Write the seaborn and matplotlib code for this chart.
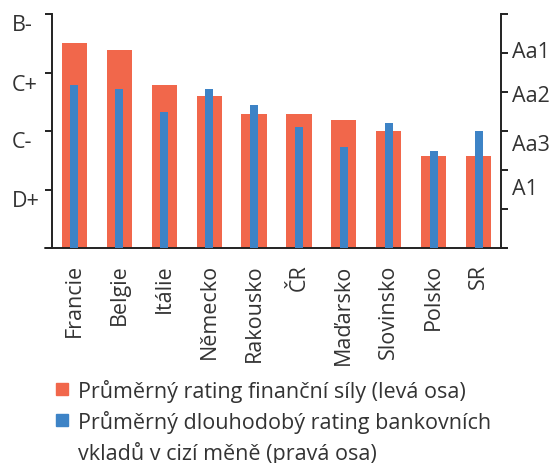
import matplotlib
matplotlib.use("Agg")
import matplotlib.pyplot as plt
from matplotlib.lines import Line2D
import pandas as pd
import seaborn as sns

# Countries and average ratings expressed as notch positions on each axis scale
countries = ["Francie", "Belgie", "Itálie", "Německo", "Rakousko",
             "ČR", "Maďarsko", "Slovinsko", "Polsko", "SR"]
strength_rating = [3.50, 3.38, 2.79, 2.60, 2.29, 2.29, 2.19, 2.00, 1.57, 1.57]
deposit_rating = [4.18, 4.08, 3.49, 4.08, 3.67, 3.10, 2.59, 3.21, 2.49, 3.00]

left_labels = ["D+", "C-", "C+", "B-"]
left_label_pos = [0.85, 1.86, 2.84, 3.86]
right_labels = ["A1", "Aa3", "Aa2", "Aa1"]
right_label_pos = [1.59, 2.72, 3.97, 5.10]

legend_labels = ["Průměrný rating finanční síly (levá osa)",
                 "Průměrný dlouhodobý rating bankovních"]
legend_wrap = "vkladů v cizí měně (pravá osa)"

RED = "#F1674B"
BLUE = "#3D83C6"
INK = "#222222"
TXT = "#333333"
FS = 15.5
W, H = 552, 464

sns.set_style("white")
plt.rcParams["font.family"] = ["Open Sans", "DejaVu Sans"]

df = pd.DataFrame({"country": countries,
                   "strength": strength_rating,
                   "deposit": deposit_rating})

fig = plt.figure(figsize=(W / 100, H / 100), dpi=100)
ax = fig.add_axes([52 / W, 1 - 249 / H, 449 / W, 234 / H])
ax2 = ax.twinx()

sns.barplot(data=df, x="country", y="strength", color=RED, width=0.56,
            saturation=1, linewidth=0, ax=ax, zorder=1)
sns.barplot(data=df, x="country", y="deposit", color=BLUE, width=0.18,
            saturation=1, linewidth=0, ax=ax2, zorder=2)

ax.set_xlim(-0.5, 9.5)
ax.set_ylim(0, 4)
ax2.set_ylim(0, 6)
for a in (ax, ax2):
    a.set_xlabel("")
    a.set_ylabel("")
    for s in a.spines.values():
        s.set_visible(False)

# Left axis: tick marks at whole steps, labels offset between them
ax.spines["left"].set_visible(True)
ax.spines["left"].set_color(INK)
ax.spines["left"].set_linewidth(1.4)
ax.set_yticks([0, 1, 2, 3, 4], minor=True)
ax.set_yticks(left_label_pos)
ax.set_yticklabels(left_labels)
ax.tick_params(axis="y", which="minor", left=True, length=5, width=1.4,
               color=INK, direction="out")
ax.tick_params(axis="y", which="major", left=True, length=0, pad=29,
               labelsize=FS, labelcolor=TXT)
for lbl in ax.get_yticklabels():
    lbl.set_horizontalalignment("left")

# Right axis
ax2.spines["right"].set_visible(True)
ax2.spines["right"].set_color(INK)
ax2.spines["right"].set_linewidth(1.4)
ax2.set_yticks([0, 1, 2, 3, 4, 5, 6], minor=True)
ax2.set_yticks(right_label_pos)
ax2.set_yticklabels(right_labels)
ax2.tick_params(axis="y", which="minor", right=True, length=5, width=1.4,
                color=INK, direction="out")
ax2.tick_params(axis="y", which="major", right=True, length=0, pad=8,
                labelsize=FS, labelcolor=TXT)

# Category axis
ax.tick_params(axis="x", bottom=False, length=0, pad=11, labelsize=FS,
               labelcolor=TXT)
ax.set_xticks(range(len(countries)))
ax.set_xticklabels(countries, rotation=90, va="top", ha="center")
ax.plot([-0.016, 1.012], [0, 0], transform=ax.transAxes, color=INK,
        lw=1.4, clip_on=False, zorder=5)

# Legend: rows on baselines 398 and 429 px from the top, wrapped line at 460
ROW1, ROW_GAP = 398, 31


def baseline_px(text):
    return H - text.get_transform().transform((0, 0))[1]


handles = [Line2D([], [], marker="s", ls="none", markersize=8.5, color=RED),
           Line2D([], [], marker="s", ls="none", markersize=8.5, color=BLUE)]
legend_kw = dict(loc="upper left", frameon=False, fontsize=FS,
                 handlelength=0.75, handletextpad=0.37, borderpad=0,
                 borderaxespad=0, labelcolor=TXT)
spacing = 0.3
anchor_y = 380
for _ in range(3):
    leg = fig.legend(handles, legend_labels,
                     bbox_to_anchor=(54 / W, 1 - anchor_y / H),
                     labelspacing=spacing, **legend_kw)
    fig.canvas.draw()
    b1 = baseline_px(leg.get_texts()[0])
    b2 = baseline_px(leg.get_texts()[1])
    leg.remove()
    anchor_y += ROW1 - b1
    spacing += (ROW_GAP - (b2 - b1)) / (FS * 100 / 72)

leg = fig.legend(handles, legend_labels,
                 bbox_to_anchor=(54 / W, 1 - anchor_y / H),
                 labelspacing=spacing, **legend_kw)
fig.canvas.draw()

# Second line of the deposit-rating entry, aligned with the legend text
text_x = leg.get_texts()[1].get_window_extent().x0 / fig.bbox.width
fig.text(text_x, 1 - (ROW1 + 2 * ROW_GAP) / H, legend_wrap, fontsize=FS,
         color=TXT, ha="left", va="baseline")

fig.savefig("out.png", dpi=100)
